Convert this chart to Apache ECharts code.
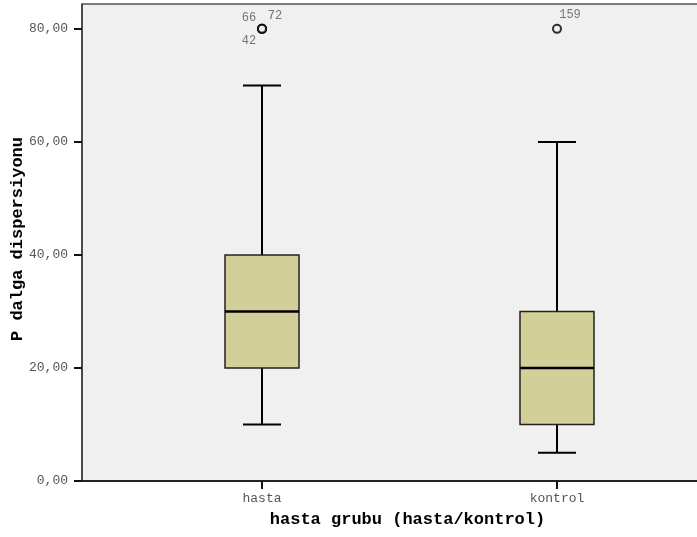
<!DOCTYPE html>
<html>
<head>
<meta charset="utf-8">
<script src="https://cdn.jsdelivr.net/npm/echarts@6/dist/echarts.min.js"></script>
<style>
html,body{margin:0;padding:0;background:#fff;}
#c{width:697px;height:537px;}
</style>
</head>
<body>
<div id="c"></div>
<script>
// ---- data ----
const categories = ['hasta', 'kontrol'];
const boxMin    = [10, 5];
const boxQ1     = [20, 10];
const boxMedian = [30, 20];
const boxQ3     = [40, 30];
const boxMax    = [70, 60];
const outlierGroup = [0, 0, 0, 1];
const outlierValue = [80, 80, 80, 80];
const outlierId    = ['66', '72', '42', '159'];
const yTicks = [0, 20, 40, 60, 80];

// ---- presentation ----
const labelOffsets = [[-13, -11], [13, -13], [-13, 12], [13, -14]];
const BOX_HALF = 37, CAP_HALF = 19;
const MONO = '"Liberation Mono", "DejaVu Sans Mono", monospace';

const boxData = categories.map((c, i) => [i + 1, boxMin[i], boxQ1[i], boxMedian[i], boxQ3[i], boxMax[i]]);
const outlierData = outlierValue.map((v, i) => ({
  value: [outlierGroup[i] + 1, v],
  label: { show: true, position: 'inside', offset: labelOffsets[i], formatter: outlierId[i] }
}));

const chart = echarts.init(document.getElementById('c'), null, { renderer: 'canvas' });
chart.setOption({
  animation: false,
  backgroundColor: '#ffffff',
  grid: { left: 82, right: 0, top: 4, bottom: 56, show: true, backgroundColor: '#f0f0f0', borderWidth: 0,
    containLabel: false, outerBoundsMode: 'none' },
  xAxis: [{
    type: 'value', min: 0.3898, max: 2.4746,
    name: 'hasta grubu (hasta/kontrol)', nameLocation: 'middle', nameGap: 30, nameMoveOverlap: false,
    nameTextStyle: { fontFamily: MONO, fontWeight: 'bold', fontSize: 17, color: '#000', padding: [0, 0, 0, 36] },
    axisLine: { show: true, onZero: false, lineStyle: { color: '#222', width: 2 } },
    axisTick: { show: true, length: 8, customValues: [1, 2], lineStyle: { color: '#111', width: 2 } },
    axisLabel: { customValues: [1, 2], margin: 11, fontFamily: MONO, fontSize: 13, color: '#555',
      formatter: v => categories[Math.round(v) - 1] || '' },
    splitLine: { show: false }
  }, {
    type: 'value', position: 'top', min: 0.3898, max: 2.4746,
    axisLine: { show: true, onZero: false, lineStyle: { color: '#555', width: 1.5 } },
    axisTick: { show: false }, axisLabel: { show: false }, splitLine: { show: false }
  }],
  yAxis: {
    type: 'value', min: 0, max: 84.4,
    name: 'P dalga dispersiyonu', nameLocation: 'middle', nameGap: 56, nameMoveOverlap: false,
    nameTextStyle: { fontFamily: MONO, fontWeight: 'bold', fontSize: 17, color: '#000', padding: [0, 0, 0, 7] },
    axisLine: { show: true, lineStyle: { color: '#111', width: 1.5 } },
    axisTick: { show: true, length: 8, customValues: yTicks, lineStyle: { color: '#111', width: 2 } },
    axisLabel: { customValues: yTicks, margin: 14, fontFamily: MONO, fontSize: 13, color: '#555',
      formatter: v => v.toFixed(2).replace('.', ',') },
    splitLine: { show: false }
  },
  series: [{
    type: 'custom',
    data: boxData,
    clip: false,
    renderItem: function (params, api) {
      const x = api.value(0);
      const pMin = api.coord([x, api.value(1)]);
      const pQ1 = api.coord([x, api.value(2)]);
      const pMed = api.coord([x, api.value(3)]);
      const pQ3 = api.coord([x, api.value(4)]);
      const pMax = api.coord([x, api.value(5)]);
      const cx = pMed[0];
      const lineStyle = { stroke: '#000', lineWidth: 2 };
      return {
        type: 'group',
        children: [
          { type: 'line', shape: { x1: cx, y1: pQ3[1], x2: cx, y2: pMax[1] }, style: lineStyle },
          { type: 'line', shape: { x1: cx, y1: pQ1[1], x2: cx, y2: pMin[1] }, style: lineStyle },
          { type: 'line', shape: { x1: cx - CAP_HALF, y1: pMax[1], x2: cx + CAP_HALF, y2: pMax[1] }, style: lineStyle },
          { type: 'line', shape: { x1: cx - CAP_HALF, y1: pMin[1], x2: cx + CAP_HALF, y2: pMin[1] }, style: lineStyle },
          { type: 'rect', shape: { x: cx - BOX_HALF, y: pQ3[1], width: BOX_HALF * 2, height: pQ1[1] - pQ3[1] },
            style: { fill: '#d3cf98', stroke: '#222', lineWidth: 1.5 } },
          { type: 'line', shape: { x1: cx - BOX_HALF, y1: pMed[1], x2: cx + BOX_HALF, y2: pMed[1] },
            style: { stroke: '#000', lineWidth: 2.5 } }
        ]
      };
    }
  }, {
    type: 'scatter',
    data: outlierData,
    symbol: 'circle',
    symbolSize: 8,
    itemStyle: { color: '#f0f0f0', borderColor: '#000', borderWidth: 2 },
    label: { fontFamily: MONO, fontSize: 12, color: '#555' },
    z: 5
  }]
});
</script>
</body>
</html>
